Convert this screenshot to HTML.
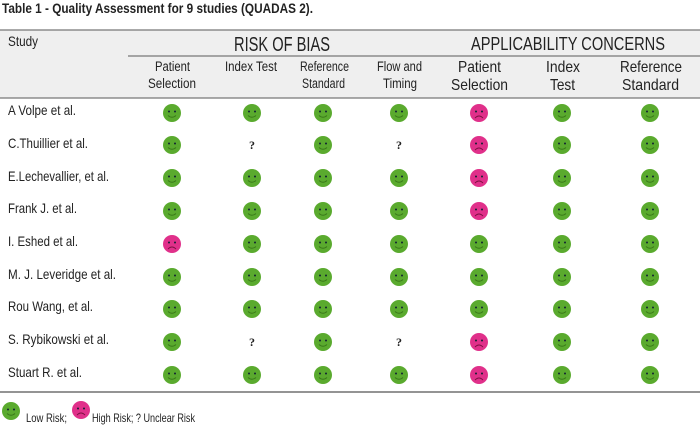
<!DOCTYPE html>
<html><head><style>
body{margin:0;background:#fff;}
svg text{font-family:"Liberation Sans",sans-serif;fill:#222;}
</style></head><body>
<svg width="700" height="425" viewBox="0 0 700 425" xmlns="http://www.w3.org/2000/svg">
<defs>
<g id="g"><circle r="9" fill="#5aaa2e"/><circle cx="-3" cy="-1.5" r="1" fill="#123"/><circle cx="3" cy="-1.5" r="1" fill="#123"/><path d="M-4 2.5 Q0 6 4 2.5" stroke="#3a7a1a" fill="none" stroke-width="0.9"/></g>
<g id="r"><circle r="9" fill="#e0308a"/><circle cx="-3" cy="-1.5" r="1" fill="#123"/><circle cx="3" cy="-1.5" r="1" fill="#123"/><path d="M-4 5 Q0 1 4 5" stroke="#7a1040" fill="none" stroke-width="0.9"/></g>
</defs>
<text x="2" y="13" font-weight="bold" font-size="14" textLength="311" lengthAdjust="spacingAndGlyphs">Table 1 - Quality Assessment for 9 studies (QUADAS 2).</text>
<rect x="0" y="30" width="700" height="68" fill="#efefef"/>
<line x1="0" y1="30" x2="700" y2="30" stroke="#777" stroke-width="1.2"/>
<line x1="128" y1="56" x2="700" y2="56" stroke="#777" stroke-width="1.2"/>
<line x1="0" y1="98" x2="700" y2="98" stroke="#777" stroke-width="1.2"/>
<line x1="0" y1="392" x2="700" y2="392" stroke="#555" stroke-width="1.2"/>
<text x="8" y="46" font-size="14" textLength="30" lengthAdjust="spacingAndGlyphs">Study</text>
<text x="234" y="51" font-size="20" textLength="96" lengthAdjust="spacingAndGlyphs">RISK OF BIAS</text>
<text x="471" y="50" font-size="18" textLength="194" lengthAdjust="spacingAndGlyphs">APPLICABILITY CONCERNS</text>
<g font-size="13.5">
<text x="155" y="71" textLength="35" lengthAdjust="spacingAndGlyphs">Patient</text><text x="148" y="88" textLength="48" lengthAdjust="spacingAndGlyphs">Selection</text>
<text x="225" y="71" textLength="52" lengthAdjust="spacingAndGlyphs">Index Test</text>
<text x="300" y="71" textLength="49" lengthAdjust="spacingAndGlyphs">Reference</text><text x="302" y="88" textLength="43" lengthAdjust="spacingAndGlyphs">Standard</text>
<text x="377" y="71" textLength="45" lengthAdjust="spacingAndGlyphs">Flow and</text><text x="383" y="88" textLength="34" lengthAdjust="spacingAndGlyphs">Timing</text>
</g>
<g font-size="16">
<text x="458" y="72" textLength="43" lengthAdjust="spacingAndGlyphs">Patient</text><text x="451" y="90" textLength="57" lengthAdjust="spacingAndGlyphs">Selection</text>
<text x="546" y="72" textLength="34" lengthAdjust="spacingAndGlyphs">Index</text><text x="550" y="90" textLength="25" lengthAdjust="spacingAndGlyphs">Test</text>
<text x="620" y="72" textLength="62" lengthAdjust="spacingAndGlyphs">Reference</text><text x="622" y="90" textLength="57" lengthAdjust="spacingAndGlyphs">Standard</text>
</g>
<g font-size="14">
<text x="8" y="115" textLength="68" lengthAdjust="spacingAndGlyphs">A Volpe et al.</text>
<text x="8" y="148" textLength="80" lengthAdjust="spacingAndGlyphs">C.Thuillier et al.</text>
<text x="8" y="181" textLength="101" lengthAdjust="spacingAndGlyphs">E.Lechevallier, et al.</text>
<text x="8" y="213" textLength="69" lengthAdjust="spacingAndGlyphs">Frank J. et al.</text>
<text x="8" y="246" textLength="70" lengthAdjust="spacingAndGlyphs">I. Eshed et al.</text>
<text x="8" y="279" textLength="108" lengthAdjust="spacingAndGlyphs">M. J. Leveridge et al.</text>
<text x="8" y="311" textLength="85" lengthAdjust="spacingAndGlyphs">Rou Wang, et al.</text>
<text x="8" y="344" textLength="101" lengthAdjust="spacingAndGlyphs">S. Rybikowski et al.</text>
<text x="8" y="377" textLength="74" lengthAdjust="spacingAndGlyphs">Stuart R. et al.</text>
</g>
<g>
<use href="#g" x="172" y="113"/><use href="#g" x="252" y="113"/><use href="#g" x="323" y="113"/><use href="#g" x="399" y="113"/><use href="#r" x="479" y="113"/><use href="#g" x="562" y="113"/><use href="#g" x="650" y="113"/>
<use href="#g" x="172" y="145"/><use href="#g" x="323" y="145"/><use href="#r" x="479" y="145"/><use href="#g" x="562" y="145"/><use href="#g" x="650" y="145"/>
<use href="#g" x="172" y="178"/><use href="#g" x="252" y="178"/><use href="#g" x="323" y="178"/><use href="#g" x="399" y="178"/><use href="#r" x="479" y="178"/><use href="#g" x="562" y="178"/><use href="#g" x="650" y="178"/>
<use href="#g" x="172" y="211"/><use href="#g" x="252" y="211"/><use href="#g" x="323" y="211"/><use href="#g" x="399" y="211"/><use href="#r" x="479" y="211"/><use href="#g" x="562" y="211"/><use href="#g" x="650" y="211"/>
<use href="#r" x="172" y="244"/><use href="#g" x="252" y="244"/><use href="#g" x="323" y="244"/><use href="#g" x="399" y="244"/><use href="#g" x="479" y="244"/><use href="#g" x="562" y="244"/><use href="#g" x="650" y="244"/>
<use href="#g" x="172" y="277"/><use href="#g" x="252" y="277"/><use href="#g" x="323" y="277"/><use href="#g" x="399" y="277"/><use href="#g" x="479" y="277"/><use href="#g" x="562" y="277"/><use href="#g" x="650" y="277"/>
<use href="#g" x="172" y="309"/><use href="#g" x="252" y="309"/><use href="#g" x="323" y="309"/><use href="#g" x="399" y="309"/><use href="#g" x="479" y="309"/><use href="#g" x="562" y="309"/><use href="#g" x="650" y="309"/>
<use href="#g" x="172" y="342"/><use href="#g" x="323" y="342"/><use href="#r" x="479" y="342"/><use href="#g" x="562" y="342"/><use href="#g" x="650" y="342"/>
<use href="#g" x="172" y="375"/><use href="#g" x="252" y="375"/><use href="#g" x="323" y="375"/><use href="#g" x="399" y="375"/><use href="#r" x="479" y="375"/><use href="#g" x="562" y="375"/><use href="#g" x="650" y="375"/>
</g>
<g font-weight="bold" font-size="12" text-anchor="middle">
<text x="252" y="149" style="font-family:'Liberation Serif',serif">?</text><text x="399" y="149" style="font-family:'Liberation Serif',serif">?</text>
<text x="252" y="346" style="font-family:'Liberation Serif',serif">?</text><text x="399" y="346" style="font-family:'Liberation Serif',serif">?</text>
</g>
<use href="#g" x="11" y="411"/>
<text x="26" y="422" font-size="12" textLength="41" lengthAdjust="spacingAndGlyphs">Low Risk;</text>
<use href="#r" x="81" y="410"/>
<text x="92" y="422" font-size="12" textLength="103" lengthAdjust="spacingAndGlyphs">High Risk; ? Unclear Risk</text>
</svg>
</body></html>
